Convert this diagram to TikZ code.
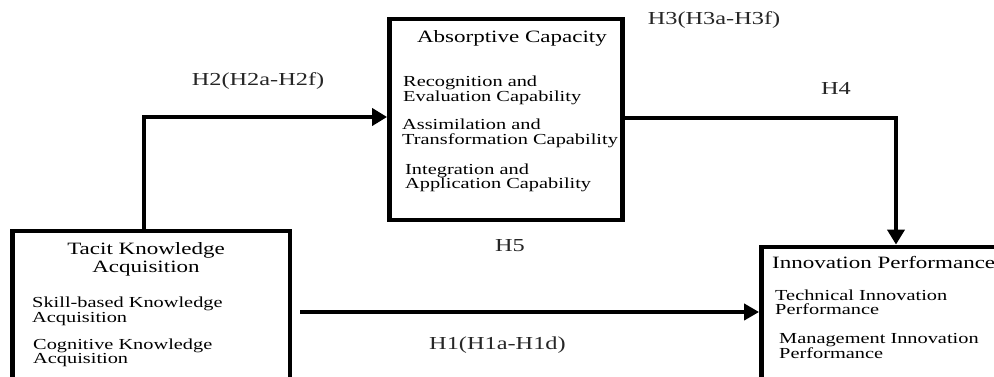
\documentclass[tikz,border=0pt]{standalone}
\usepackage{fontspec}
\setmainfont[FakeStretch=1.33]{Liberation Serif}
\usetikzlibrary{arrows.meta}
\tikzset{
  box/.style={draw, line width=4.8pt, fill=none},
  conn/.style={line width=4.2pt, -{Triangle[length=15pt,width=17pt]}},
  conna/.style={line width=3.8pt, -{Triangle[length=15pt,width=16pt]}},
  ttl/.style={inner sep=0pt, anchor=base, font=\fontsize{17.3}{18}\selectfont},
  itm/.style={inner sep=0pt, anchor=base west, font=\fontsize{15.3}{15}\selectfont},
  lbl/.style={inner sep=0pt, anchor=base, text=black!85, font=\fontsize{18.3}{19}\selectfont},
}
\begin{document}
\begin{tikzpicture}[x=1pt,y=1pt]
\useasboundingbox (0,0) rectangle (994,377);
\clip (0,0) rectangle (994,377);
\fill[white] (0,0) rectangle (994,377);
% boxes
\node[box, minimum width=277.5pt, minimum height=166pt] (tacit) at (151.25,63) {};
\node[box, minimum width=233pt, minimum height=201pt] (absorp) at (506,257.5) {};
\node[box, minimum width=248.5pt, minimum height=150pt] (innov) at (885.75,55) {};
% tacit text
\node[ttl] (t1) at (146,122) {Tacit Knowledge};
\node[ttl] (t2) at (146,104) {Acquisition};
\node[itm] (t3) at (32,69) {Skill-based Knowledge};
\node[itm] (t4) at (32,54) {Acquisition};
\node[itm] (t5) at (33,27) {Cognitive Knowledge};
\node[itm] (t6) at (33,13) {Acquisition};
% absorptive text
\node[ttl] (a1) at (512,334) {Absorptive Capacity};
\node[itm] (a2) at (403,290) {Recognition and};
\node[itm] (a3) at (403,275) {Evaluation Capability};
\node[itm] (a4) at (402,247) {Assimilation and};
\node[itm] (a5) at (402,232) {Transformation Capability};
\node[itm] (a6) at (405,202) {Integration and};
\node[itm] (a7) at (405,188) {Application Capability};
% innovation text
\node[ttl, anchor=base west] (i1) at (772,108) {Innovation Performance};
\node[itm] (i2) at (775,76) {Technical Innovation};
\node[itm] (i3) at (775,62) {Performance};
\node[itm] (i4) at (779,33) {Management Innovation};
\node[itm] (i5) at (779,18) {Performance};
% labels
\node[lbl] (h2) at (258,291) {H2(H2a-H2f)};
\node[lbl] (h3) at (714,352) {H3(H3a-H3f)};
\node[lbl] (h4) at (836,282) {H4};
\node[lbl] (h5) at (510,125) {H5};
\node[lbl] (h1) at (497.5,27) {H1(H1a-H1d)};
% connectors
\coordinate (h2x) at (144,0);
\coordinate (h2y) at (0,260);
\coordinate (h4x) at (896,0);
\coordinate (h4y) at (0,259);
\coordinate (h1s) at (300,65);
\draw[conn] (tacit.north -| h2x) |- (absorp.west |- h2y);
\draw[conn] (absorp.east |- h4y) -| (innov.north -| h4x);
\draw[conna] (h1s) -- (innov.west |- h1s);
\end{tikzpicture}
\end{document}
